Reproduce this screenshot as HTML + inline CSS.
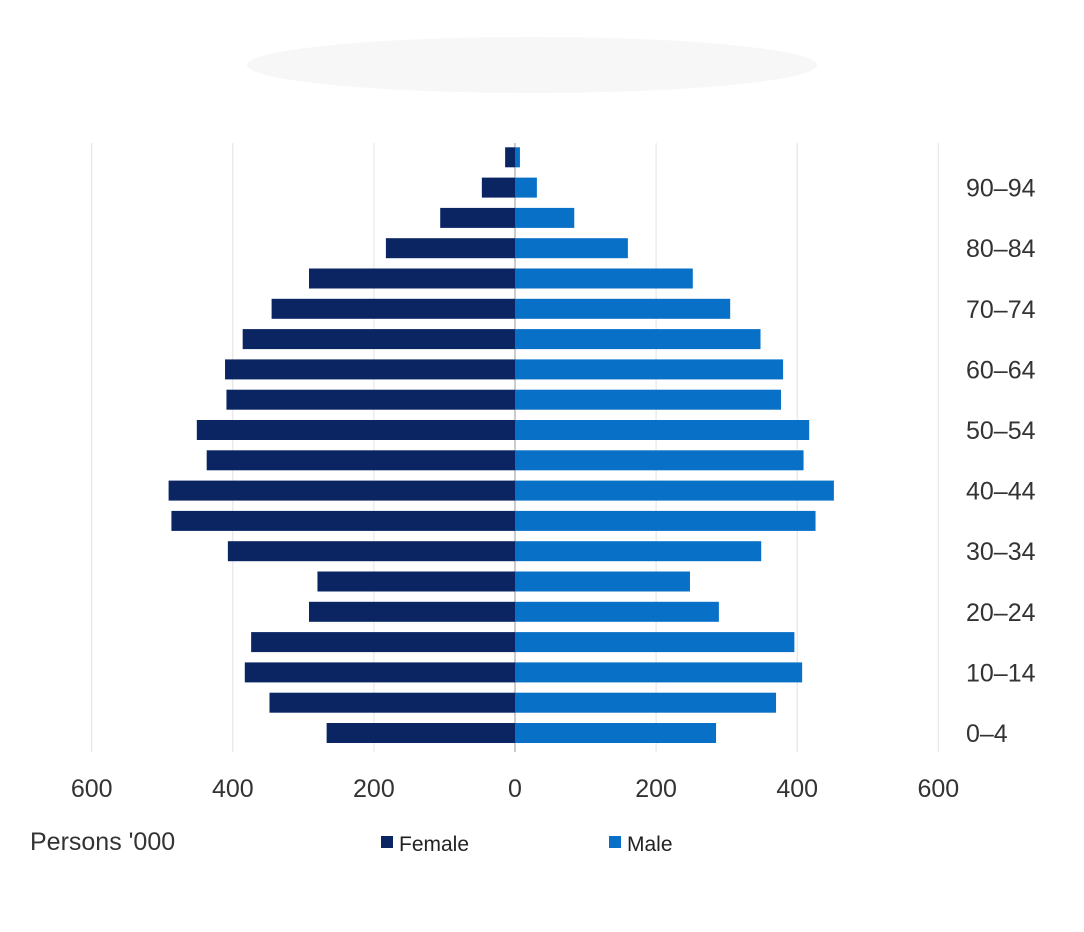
<!DOCTYPE html>
<html><head><meta charset="utf-8"><style>
body{margin:0;background:#fff;width:1084px;height:927px;overflow:hidden;font-family:"Liberation Sans",sans-serif}
</style></head><body>
<svg id="chart" width="1084" height="927" viewBox="0 0 1084 927">
<ellipse cx="532" cy="65" rx="285" ry="28" fill="#f7f7f7"/>
<g id="grid"></g><g id="bars"></g><g id="labels"></g>
<text x="30" y="850" font-size="25" fill="#333">Persons '000</text>
<rect x="381" y="836" width="12" height="12" fill="#0b2563"/>
<text x="399" y="851" font-size="21" fill="#222">Female</text>
<rect x="609" y="836" width="12" height="12" fill="#0870c6"/>
<text x="627" y="851" font-size="21" fill="#222">Male</text>
</svg>
<script>
const ageGroups=["0–4","5–9","10–14","15–19","20–24","25–29","30–34","35–39","40–44","45–49","50–54","55–59","60–64","65–69","70–74","75–79","80–84","85–89","90–94","95+"];
const female=[267,348,383,374,292,280,407,487,491,437,451,409,411,386,345,292,183,106,47,14];
const male=[285,370,407,396,289,248,349,426,452,409,417,377,380,348,305,252,160,84,31,7];
const ticks=[-600,-400,-200,0,200,400,600];
const NS="http://www.w3.org/2000/svg";
const x0=515,scale=0.7055;
const xs=v=>x0+v*scale;
const ys=i=>733-i*30.3;
function mk(t,a,p){const e=document.createElementNS(NS,t);for(const k in a)e.setAttribute(k,a[k]);p.appendChild(e);return e;}
const g=document.getElementById('grid'),b=document.getElementById('bars'),l=document.getElementById('labels');
ticks.forEach(t=>{
 const ln=mk('line',{x1:xs(t),x2:xs(t),y1:143,y2:752,stroke:t===0?'#999':'#e2e2e2','stroke-width':1},g);
 
 
 const tx=mk('text',{x:xs(t),y:797,'font-size':25,fill:'#333','text-anchor':'middle'},l);
 tx.textContent=Math.abs(t);
 
 
});
ageGroups.forEach((a,i)=>{
 const y=ys(i)-10;
 const f=mk('rect',{x:xs(-female[i]),y:y,width:female[i]*scale,height:20,fill:'#0b2563'},b);
 
 
 const m=mk('rect',{x:x0,y:y,width:male[i]*scale,height:20,fill:'#0870c6'},b);
 
 
 if(i%2===0){
  const t=mk('text',{x:966,y:ys(i)+9,'font-size':25,fill:'#333'},l);
  t.textContent=a;
  
  
 }
});
</script>
</body></html>
